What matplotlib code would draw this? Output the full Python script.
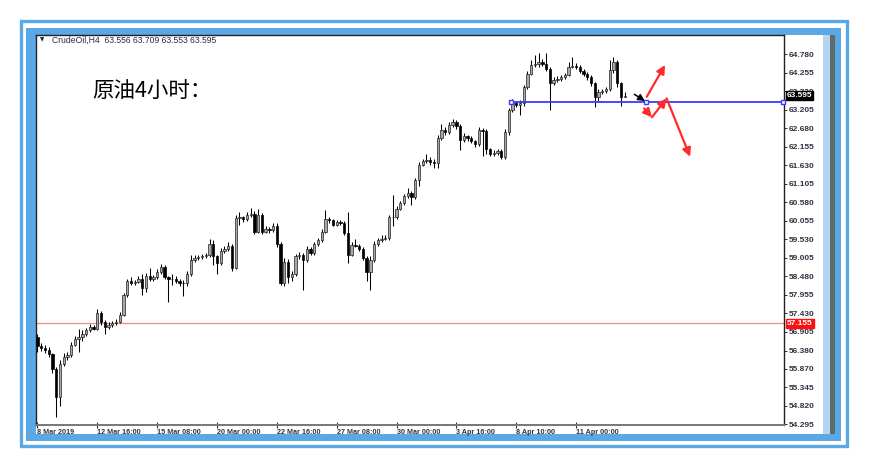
import matplotlib
matplotlib.use("Agg")
import matplotlib.pyplot as plt
import matplotlib.transforms as mtransforms
from matplotlib.patches import Rectangle
import numpy as np

plt.rcParams['font.family'] = ['Liberation Sans', 'DejaVu Sans']

# ---------------- data ----------------
first_open = 56.75
closes = [56.50, 56.45, 56.40, 56.28, 55.85, 55.05, 56.00, 56.20, 56.25, 56.55,
          56.70, 56.75, 56.85, 56.95, 57.05, 57.00, 57.45, 57.20, 57.05, 57.10,
          57.15, 57.20, 57.40, 57.95, 58.35, 58.30, 58.32, 58.40, 58.15, 58.50,
          58.40, 58.45, 58.60, 58.75, 58.45, 58.40, 58.42, 58.35, 58.30, 58.28,
          58.55, 58.95, 59.00, 59.02, 59.05, 59.08, 59.40, 59.05, 58.85, 59.20,
          59.25, 59.35, 58.72, 60.14, 60.15, 60.10, 60.22, 60.25, 59.75, 60.22,
          59.75, 59.82, 59.80, 59.92, 59.40, 58.30, 58.90, 58.45, 58.55, 59.05,
          59.10, 58.95, 59.25, 59.15, 59.40, 59.50, 59.75, 60.10, 60.08, 59.95,
          60.02, 60.00, 59.70, 59.10, 59.38, 59.35, 59.25, 59.00, 58.60, 58.95,
          59.40, 59.50, 59.55, 59.58, 60.15, 60.15, 60.40, 60.55, 60.75, 60.85,
          60.72, 61.20, 61.65, 61.75, 61.78, 61.72, 61.70, 62.40, 62.62, 62.58,
          62.78, 62.85, 62.75, 62.35, 62.45, 62.40, 62.32, 62.22, 62.62, 62.60,
          62.08, 61.95, 61.97, 62.02, 61.86, 62.57, 63.19, 63.40, 63.35, 63.38,
          63.85, 64.22, 64.48, 64.50, 64.55, 64.50, 64.35, 63.95, 64.05, 64.08,
          64.12, 64.18, 64.42, 64.44, 64.42, 64.30, 64.22, 64.12, 63.95, 63.55,
          63.70, 63.72, 63.78, 64.33, 64.55, 63.96, 63.556, 63.595]
highs = [56.85, 56.60, 56.55, 56.48, 56.32, 55.90, 56.10, 56.30, 56.35, 56.62,
         56.78, 57.00, 56.95, 57.02, 57.12, 57.10, 57.55, 57.50, 57.25, 57.18,
         57.22, 57.28, 57.48, 58.00, 58.42, 58.45, 58.38, 58.48, 58.55, 58.58,
         58.72, 58.52, 58.70, 58.82, 58.80, 58.50, 58.55, 58.48, 58.40, 58.38,
         58.62, 59.10, 59.08, 59.10, 59.12, 59.15, 59.55, 59.50, 59.10, 59.28,
         59.35, 59.45, 59.40, 60.22, 60.30, 60.20, 60.30, 60.42, 60.32, 60.40,
         60.28, 59.90, 59.88, 60.00, 59.98, 59.45, 59.00, 58.98, 58.62, 59.12,
         59.18, 59.15, 59.35, 59.30, 59.45, 59.58, 59.82, 60.35, 60.15, 60.12,
         60.08, 60.08, 60.05, 60.30, 59.45, 59.55, 59.40, 59.30, 59.05, 59.05,
         59.48, 59.58, 59.65, 59.65, 60.22, 60.80, 60.48, 60.62, 60.82, 60.98,
         60.90, 61.28, 61.72, 61.82, 61.95, 61.85, 61.80, 62.48, 62.80, 62.70,
         62.85, 62.95, 62.92, 62.80, 62.55, 62.50, 62.45, 62.35, 62.70, 62.68,
         62.65, 62.12, 62.05, 62.10, 62.08, 62.65, 63.25, 63.50, 63.45, 63.48,
         63.90, 64.30, 64.60, 64.75, 64.82, 64.65, 64.80, 64.40, 64.12, 64.15,
         64.20, 64.25, 64.55, 64.70, 64.52, 64.48, 64.35, 64.28, 64.18, 64.00,
         63.78, 63.80, 63.85, 64.62, 64.70, 64.60, 64.00, 63.709]
lows = [56.35, 56.38, 56.32, 56.20, 55.75, 54.50, 54.80, 55.95, 56.12, 56.20,
        56.50, 56.35, 56.65, 56.80, 56.90, 56.95, 56.95, 57.10, 56.85, 56.98,
        57.05, 57.10, 57.15, 57.35, 57.90, 58.25, 58.25, 58.28, 57.95, 58.05,
        58.35, 58.35, 58.40, 58.55, 58.40, 57.75, 58.25, 58.28, 58.22, 57.92,
        58.22, 58.50, 58.90, 58.95, 58.98, 59.00, 59.02, 58.80, 58.55, 58.80,
        59.15, 59.20, 58.62, 58.68, 59.95, 60.02, 60.05, 60.15, 59.68, 59.70,
        59.68, 59.70, 59.72, 59.75, 59.32, 58.25, 58.22, 58.30, 58.35, 58.50,
        58.98, 58.10, 58.90, 59.10, 59.10, 59.35, 59.45, 59.70, 60.00, 59.90,
        59.90, 59.95, 59.65, 58.85, 59.05, 59.30, 59.20, 58.95, 58.35, 58.09,
        58.90, 59.35, 59.45, 59.50, 59.52, 59.90, 60.10, 60.35, 60.50, 60.70,
        60.50, 60.68, 61.05, 61.60, 61.70, 61.65, 61.55, 61.55, 62.35, 62.50,
        62.52, 62.72, 62.65, 62.05, 62.28, 62.32, 62.25, 62.15, 62.18, 61.90,
        61.95, 61.88, 61.90, 61.92, 61.80, 61.82, 62.50, 63.15, 63.28, 63.05,
        63.32, 63.80, 64.18, 64.40, 64.40, 64.45, 64.30, 63.20, 63.90, 64.00,
        64.02, 64.08, 64.15, 64.38, 64.35, 64.25, 64.15, 64.05, 63.88, 63.29,
        63.45, 63.65, 63.68, 63.72, 64.25, 63.85, 63.30, 63.553]

date_pos = [0, 16, 32, 48, 64, 80, 96, 112, 128, 144]
date_labels = ["8 Mar 2019", "12 Mar 16:00", "15 Mar 08:00", "20 Mar 00:00",
               "22 Mar 16:00", "27 Mar 08:00", "30 Mar 00:00", "3 Apr 16:00",
               "8 Apr 10:00", "11 Apr 00:00"]
price_ticks = [64.780, 64.255, 63.730, 63.205, 62.680, 62.155, 61.630, 61.105,
               60.580, 60.055, 59.530, 59.005, 58.480, 57.955, 57.430, 56.905,
               56.380, 55.870, 55.345, 54.820, 54.295]
price_tick_labels = ["64.780", "64.255", "63.730", "63.205", "62.680", "62.155",
                     "61.630", "61.105", "60.580", "60.055", "59.530", "59.005",
                     "58.480", "57.955", "57.430", "56.905", "56.380", "55.870",
                     "55.345", "54.820", "54.295"]
last_price = 63.595
red_level = 57.155
blue_level = 63.43
header = "CrudeOil,H4  63.556 63.709 63.553 63.595"
title_cn = "原油4小时："

# ---------------- figure & frame ----------------
W, H = 870, 470
fig = plt.figure(figsize=(W / 100, H / 100), dpi=100)
fig.patch.set_facecolor('white')

bg = fig.add_axes([0, 0, 1, 1], zorder=-5)
bg.set_xlim(0, W)
bg.set_ylim(H, 0)
bg.axis('off')

def rect_px(x0, y0, x1, y1, **kw):
    bg.add_patch(Rectangle((x0, y0), x1 - x0, y1 - y0, **kw))

blue = '#5ba8e6'
rect_px(21, 21, 847, 446, fill=False, ec=blue, lw=2.4)
rect_px(26, 28, 841, 441, fc=blue, ec='none')
rect_px(36, 35, 835, 434, fc='white', ec='none')
rect_px(823, 35, 830, 434, fc='#b5d4f0', ec='none')
rect_px(830, 35, 835, 434, fc='#5f6b6b', ec='none')

ax = fig.add_axes([36 / W, 1 - 425 / H, (784 - 36) / W, (425 - 35) / H], zorder=1)
ax.set_facecolor('white')

n = len(closes)
idx = np.arange(n)
opens = [first_open] + closes[:-1]
o = np.array(opens)
c = np.array(closes)
hi = np.array(highs)
lo = np.array(lows)
up = c >= o

ax.vlines(idx, lo, hi, color='black', lw=0.75, zorder=2)
body_bot = np.minimum(o, c)
body_h = np.maximum(np.abs(c - o), 0.02)
ax.bar(idx[up], body_h[up], bottom=body_bot[up], width=0.62,
       color='#a8a8a8', edgecolor='#222222', lw=0.5, zorder=3)
ax.bar(idx[~up], body_h[~up], bottom=body_bot[~up], width=0.62,
       color='black', edgecolor='black', lw=0.5, zorder=3)

ax.set_xlim(-0.4, 199.6)
ax.set_ylim(54.27, 65.32)

# levels
ax.axhline(red_level, color='#f08888', lw=0.9, zorder=1)
ax.plot([126.6, 199.6], [blue_level, blue_level], color='#3a3aff', lw=1.3, zorder=4)
ax.plot([126.6, 162.7, 199.2], [blue_level] * 3, ls='none', marker='s', ms=3.2,
        mfc='white', mec='#3a3aff', mew=1.0, zorder=5, clip_on=False)

# arrows
red = '#ff2a2a'
ap = dict(arrowstyle='-|>,head_length=0.5,head_width=0.25', color=red, lw=1.6,
          shrinkA=0, shrinkB=0)
ax.annotate('', xy=(167.8, 64.47), xytext=(162.9, 63.57), arrowprops=ap, zorder=6)
ax.annotate('', xy=(164.3, 62.99), xytext=(162.2, 63.24), arrowprops=ap, zorder=6)
ax.annotate('', xy=(168.2, 63.525), xytext=(164.3, 62.99), arrowprops=ap, zorder=6)
ax.annotate('', xy=(174.5, 61.87), xytext=(168.2, 63.525), arrowprops=ap, zorder=6)
apb = dict(arrowstyle='-|>,head_length=0.4,head_width=0.2', color='black', lw=1.1,
           shrinkA=0, shrinkB=0)
ax.annotate('', xy=(162.4, 63.45), xytext=(159.6, 63.64), arrowprops=apb, zorder=6)

# axes styling
for s in ax.spines.values():
    s.set_color('#222222')
    s.set_linewidth(1.0)
ax.spines['bottom'].set_color('#777777')
ax.spines['bottom'].set_linewidth(1.4)

ax.yaxis.tick_right()
ax.set_yticks(price_ticks)
ax.set_yticklabels(price_tick_labels)
ax.tick_params(axis='y', direction='out', length=2, width=0.7, pad=1.5,
               labelsize=6, labelcolor='#333344', colors='#333333')
for t in ax.get_yticklabels():
    t.set_fontweight('bold')

ax.set_xticks(date_pos)
ax.set_xticklabels(date_labels)
ax.tick_params(axis='x', direction='inout', length=4, width=0.8, pad=1,
               labelsize=5.2, labelcolor='#333344', colors='#333333')
for t in ax.get_xticklabels():
    t.set_horizontalalignment('left')
    t.set_fontweight('bold')

# price boxes
trans = mtransforms.blended_transform_factory(ax.transAxes, ax.transData)
ax.text(1.004, last_price, f"{last_price:.3f}", transform=trans, fontsize=6,
        color='white', fontweight='bold', va='center', ha='left', zorder=10,
        bbox=dict(boxstyle='square,pad=0.12', fc='black', ec='black'), clip_on=False)
ax.text(1.004, red_level, f"{red_level:.3f}", transform=trans, fontsize=6,
        color='white', fontweight='bold', va='center', ha='left', zorder=10,
        bbox=dict(boxstyle='square,pad=0.12', fc='#ff1010', ec='#ff1010'), clip_on=False)

# header and Chinese title
fig.text(40 / W, 1 - 40 / H, "\u25BC", fontsize=4, color='#222222',
         va='center', ha='left', family=['DejaVu Sans'])
fig.text(52 / W, 1 - 40 / H, header, fontsize=6.2, color='#2a2a4a',
         va='center', ha='left')
fig.text(92 / W, 1 - 92 / H, title_cn, fontsize=15.5, color='black',
         va='center', ha='left', family=['Noto Sans CJK SC', 'DejaVu Sans'])

fig.savefig('out.png', dpi=100)
